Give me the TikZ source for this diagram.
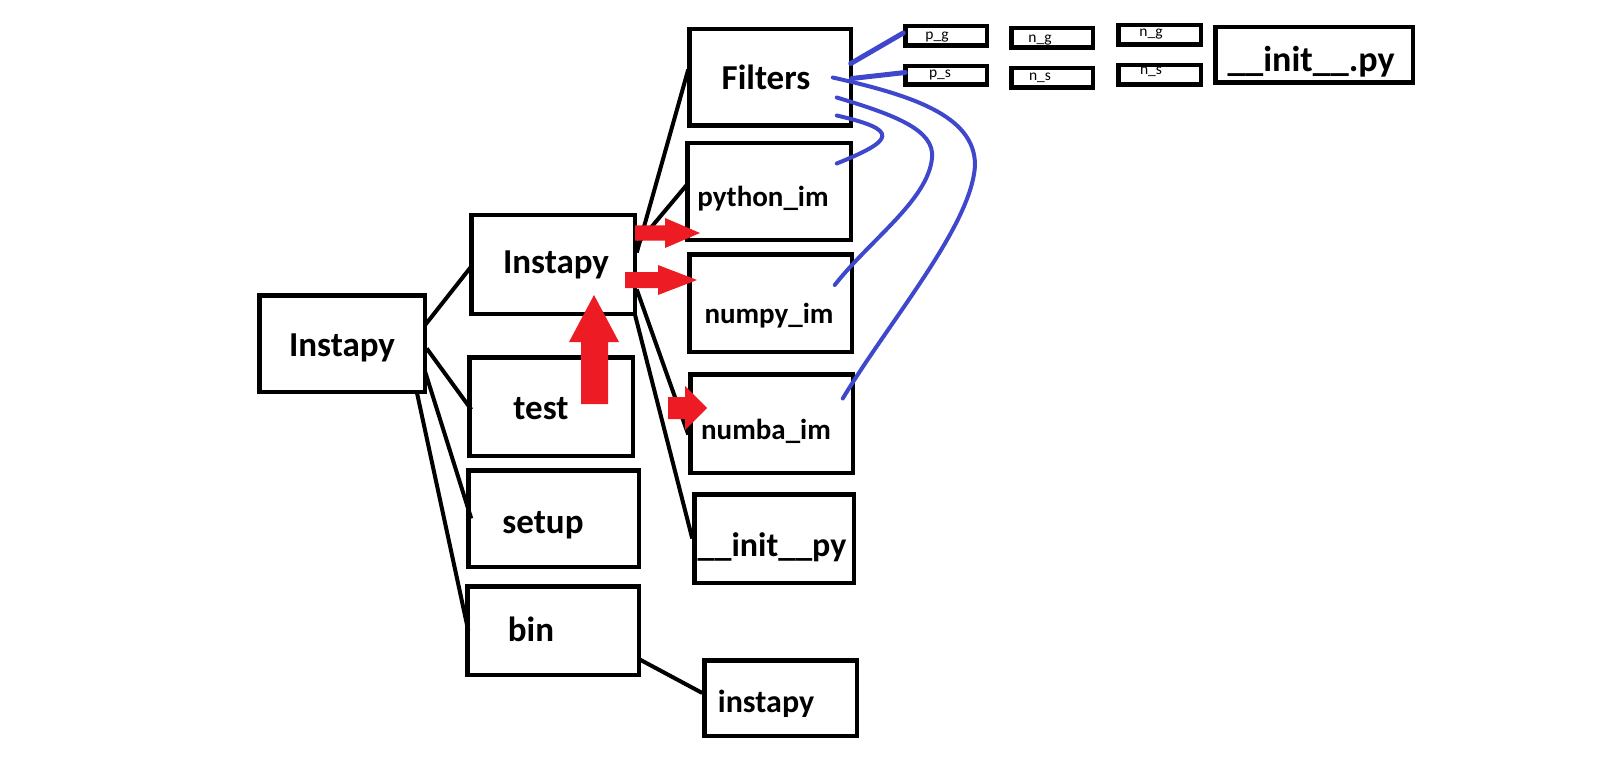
\documentclass[tikz,border=0pt]{standalone}
\usepackage{fontspec}
\setmainfont{Carlito}
\usetikzlibrary{calc}
\definecolor{boxline}{HTML}{000000}
\definecolor{linkblue}{HTML}{3F48CC}
\definecolor{markred}{HTML}{ED1C24}
\tikzset{
  dirbox/.style  = {rectangle, draw=boxline, line width=4.5pt, inner sep=0pt, outer sep=0pt},
  lbl/.style     = {anchor=base, inner sep=0pt, font=\bfseries\fontsize{35}{40}\selectfont},
  midlbl/.style  = {anchor=base, inner sep=0pt, font=\bfseries\fontsize{29}{34}\selectfont},
  tinylbl/.style = {anchor=base, inner sep=0pt, font=\fontsize{15.5}{18}\selectfont},
  tree/.style    = {line width=4pt, draw=boxline},
  link/.style    = {line width=4pt, draw=linkblue, line cap=round},
  redmark/.style = {fill=markred},
}

\begin{document}
\begin{tikzpicture}[x=1pt, y=-1pt]
        \useasboundingbox (0,0) rectangle (1598,762);
        % left column
        \node[dirbox, minimum width=165.5pt, minimum height=96.5pt] (root)  at (342,343.5) {};
        \node[dirbox, minimum width=163.5pt, minimum height=98.5pt] (inst)  at (553,264.5) {};
        \node[dirbox, minimum width=163.5pt, minimum height=98.5pt] (test)  at (551,406.5) {};
        \node[dirbox, minimum width=170.5pt, minimum height=96.5pt] (setup) at (553.5,518.5) {};
        \node[dirbox, minimum width=171.5pt, minimum height=88.5pt] (bin)   at (553,630.5) {};
        \node[dirbox, minimum width=152.5pt, minimum height=75.5pt] (exe)   at (780.5,698) {};
        % package column
        \node[dirbox, minimum width=161.5pt, minimum height=96.5pt] (filt)  at (770,77.5) {};
        \node[dirbox, minimum width=163.5pt, minimum height=96.5pt] (pyim)  at (769,191.5) {};
        \node[dirbox, minimum width=162.5pt, minimum height=97.5pt] (npim)  at (770.5,303) {};
        \node[dirbox, minimum width=162.5pt, minimum height=98.5pt] (nbim)  at (771.5,423.5) {};
        \node[dirbox, minimum width=159.5pt, minimum height=88.5pt] (pinit) at (774,538.5) {};
        % filter files
        \node[dirbox, minimum width=81.5pt, minimum height=19.5pt] (pg)  at (946,36) {};
        \node[dirbox, minimum width=81.5pt, minimum height=18.5pt] (ps)  at (946,75.5) {};
        \node[dirbox, minimum width=81.5pt, minimum height=19.5pt] (ng)  at (1052,38) {};
        \node[dirbox, minimum width=81.5pt, minimum height=19.5pt] (ns)  at (1052,78) {};
        \node[dirbox, minimum width=82.5pt, minimum height=19.5pt] (ng2) at (1159.5,35) {};
        \node[dirbox, minimum width=82.5pt, minimum height=19.5pt] (ns2) at (1159.5,75) {};
        \node[dirbox, minimum width=197.5pt, minimum height=55.5pt] (finit) at (1314,55) {};

        % texts
        \node[lbl] (root-t)  at (342,356) {Instapy};
        \node[lbl] (inst-t)  at (556,273) {Instapy};
        \node[lbl] (test-t)  at (541,419) {test};
        \node[lbl] (setup-t) at (543,533) {setup};
        \node[lbl] (bin-t)   at (531,641) {bin};
        \node[lbl, font=\bfseries\fontsize{32}{36}\selectfont] (exe-t) at (766,712) {instapy};
        \node[lbl] (filt-t)  at (766,90) {Filters};
        \node[midlbl] (pyim-t) at (763,207) {python\_im};
        \node[midlbl] (npim-t) at (769,323) {numpy\_im};
        \node[midlbl] (nbim-t) at (766,439) {numba\_im};
        \node[lbl, font=\bfseries\fontsize{34}{38}\selectfont] (pinit-t) at (772,556) {\_\_init\_\_py};
        \node[lbl, font=\bfseries\fontsize{36}{40}\selectfont] (finit-t) at (1311,72) {\_\_init\_\_.py};
        \node[tinylbl] (pg-t)  at (937,40) {p\_g};
        \node[tinylbl] (ps-t)  at (940,78) {p\_s};
        \node[tinylbl] (ng-t)  at (1040,43) {n\_g};
        \node[tinylbl] (ns-t)  at (1040,81) {n\_s};
        \node[tinylbl] (ng2-t) at (1151,37) {n\_g};
        \node[tinylbl] (ns2-t) at (1151,75) {n\_s};

        % tree lines
        \draw[tree] ([shift={(0,-18)}]root.east) -- ([shift={(0,2)}]inst.west);
        \draw[tree] ([shift={(2,5)}]root.east) -- ([shift={(2,3)}]test.west);
        \draw[tree] ([shift={(0,27)}]root.east) -- ([shift={(3,0)}]setup.west);
        \draw[tree] ([shift={(-8,0)}]root.south east) -- ([shift={(1,0)}]bin.west);
        \draw[tree] ([shift={(2,-12)}]inst.east) -- ([shift={(-1,-8)}]filt.west);
        \draw[tree] ([shift={(2,-20)}]inst.east) -- ([shift={(-1,-6)}]pyim.west);
        \draw[tree] ([shift={(2,25)}]inst.east) -- ([shift={(-2,11)}]nbim.west);
        \draw[tree] (inst.south east) -- ([shift={(-2,0)}]pinit.west);
        \draw[tree] ([shift={(1,29)}]bin.east) -- ([shift={(-2,-5)}]exe.west);

        % blue links
        \draw[link, line width=5pt] ([shift={(-2,-3)}]pg.west) -- ([shift={(0,-14)}]filt.east);
        \draw[link, line width=5pt] ([shift={(0,-3)}]ps.west) -- ([shift={(1,1)}]filt.east);
        \draw[link] ([shift={(-18,0)}]filt.east) .. controls (910,95) and (975,115) .. (975,165)
                    .. controls (972,225) and (890,320) .. ([shift={(-10,-25)}]nbim.east);
        \draw[link] ([shift={(-14,20)}]filt.east) .. controls (895,115) and (935,130) .. (932,158)
                    .. controls (928,200) and (870,240) .. ([shift={(-17,-18)}]npim.east);
        \draw[link] ([shift={(-14,38)}]filt.east) .. controls (900,130) and (895,140) .. ([shift={(-14,-28)}]pyim.east);

        % red arrows
        \fill[redmark] (581,404) -- (581,342) -- (569,342) -- (594,295) -- (619,342) -- (608,342) -- (608,404) -- cycle;
        \foreach \sx/\hx/\tx/\yy/\sw/\hw in {635/665/700/233/7.5/15, 625/658/697/280/8/15, 668/685/707/408/11/22}{
          \fill[redmark] (\sx,\yy-\sw) -- (\hx,\yy-\sw) -- (\hx,\yy-\hw) -- (\tx,\yy) -- (\hx,\yy+\hw) -- (\hx,\yy+\sw) -- (\sx,\yy+\sw) -- cycle;
        }
    \end{tikzpicture}
\end{document}
